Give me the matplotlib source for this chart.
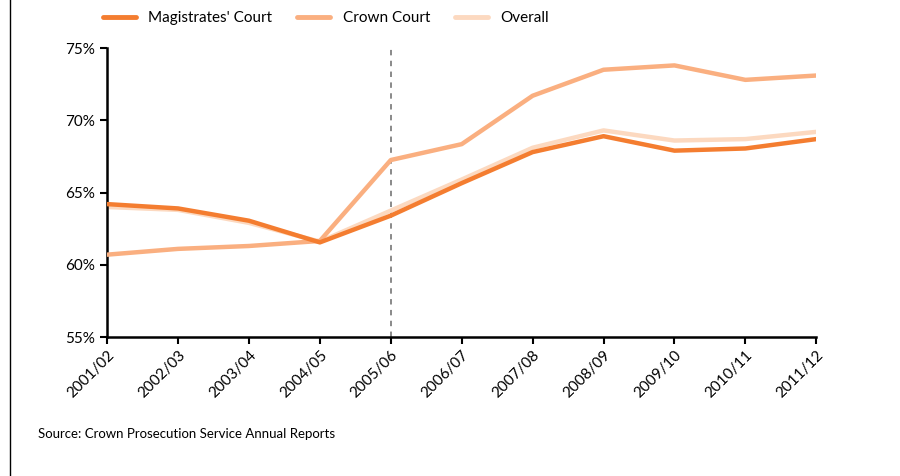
import matplotlib
matplotlib.use("Agg")
import matplotlib.pyplot as plt
from matplotlib.lines import Line2D
from matplotlib.ticker import FuncFormatter

plt.rcParams['font.family'] = ['Lato', 'DejaVu Sans']

years = ['2001/02', '2002/03', '2003/04', '2004/05', '2005/06', '2006/07',
         '2007/08', '2008/09', '2009/10', '2010/11', '2011/12']
magistrates = [64.2, 63.9, 63.05, 61.55, 63.4, 65.65, 67.8, 68.9, 67.9, 68.05, 68.7]
crown = [60.7, 61.1, 61.3, 61.65, 67.25, 68.35, 71.7, 73.5, 73.8, 72.8, 73.1]
overall = [64.0, 63.8, 62.9, 61.6, 63.75, 65.9, 68.1, 69.3, 68.6, 68.7, 69.2]

c_mag = '#F47D30'
c_crown = '#FAAF80'
c_all = '#FCD9C0'

fig = plt.figure(figsize=(9, 4.76), dpi=100)
ax = fig.add_axes([0.119, 0.292, 0.788, 0.607])

x = range(len(years))
ax.plot(x, overall, color=c_all, lw=3.2, solid_capstyle='round', zorder=2)
ax.plot(x, crown, color=c_crown, lw=3.2, solid_capstyle='round', zorder=3)
ax.plot(x, magistrates, color=c_mag, lw=3.2, solid_capstyle='round', zorder=4)

# policy change marker
ax.axvline(4, color='#808080', lw=1.3, ls=(0, (3, 3)), zorder=1)

ax.set_xlim(0, len(years) - 1)
ax.set_ylim(55, 75)
ax.set_yticks([55, 60, 65, 70, 75])
ax.yaxis.set_major_formatter(FuncFormatter(lambda v, p: f'{v:.0f}%'))
ax.set_xticks(list(x))
ax.set_xticklabels(years, rotation=45, ha='right', rotation_mode='anchor')

for s in ['top', 'right']:
    ax.spines[s].set_visible(False)
for s in ['left', 'bottom']:
    ax.spines[s].set_linewidth(1.8)
    ax.spines[s].set_color('black')
ax.tick_params(axis='both', direction='out', length=5, width=1.5,
               labelsize=11, colors='black')
ax.tick_params(axis='x', pad=3)

handles = [Line2D([], [], color=c, lw=3.5, solid_capstyle='round')
           for c in (c_mag, c_crown, c_all)]
fig.legend(handles, ["Magistrates' Court", 'Crown Court', 'Overall'],
           loc='center', bbox_to_anchor=(0.362, 0.962), ncol=3, frameon=False,
           fontsize=11, handlelength=2.2, columnspacing=1.6, handletextpad=0.8)

fig.text(0.042, 0.088, 'Source: Crown Prosecution Service Annual Reports',
         fontsize=9.5, va='center')

fig.add_artist(Line2D([0.011, 0.011], [0, 1], color='black', lw=1,
                      transform=fig.transFigure))

fig.savefig('out.png', dpi=100)
